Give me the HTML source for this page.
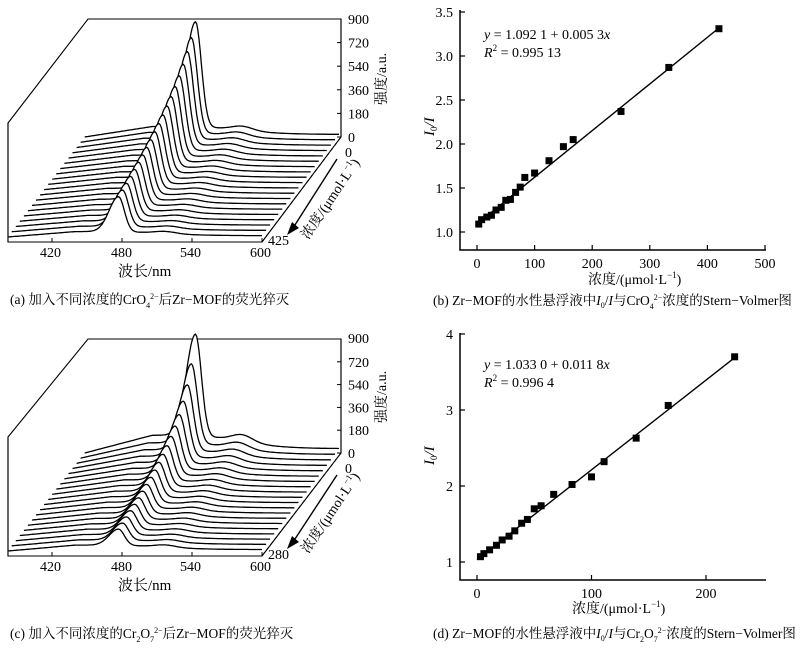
<!DOCTYPE html>
<html><head><meta charset="utf-8"><style>
html,body{margin:0;padding:0;background:#fff;}
svg{display:block;font-family:"Liberation Serif","Noto Serif CJK SC","Noto Sans CJK SC",serif;}
</style></head><body>
<svg id="s" width="800" height="649" viewBox="0 0 800 649" xmlns="http://www.w3.org/2000/svg">
<g id="wa"></g><g id="wc"></g>
<g font-size="14" fill="#000">
<text x="348" y="24">900</text>
<text x="348" y="142">0</text>
<text x="345" y="157">0</text>
<text x="268" y="245">425</text>
<text x="40" y="257">420</text><text x="111" y="257">480</text><text x="180" y="257">540</text><text x="250" y="257">600</text>
<text x="118" y="276" font-size="15">波长/nm</text>
<text x="386" y="105" transform="rotate(-90 386 105)" font-size="14">强度/a.u.</text>
<text x="308" y="240" transform="rotate(-56 308 240)" font-size="14">浓度/(μmol·L<tspan font-size="9" dy="-6">−1</tspan><tspan dy="6">)</tspan></text>
<text x="10" y="304" font-size="13.5">(a)  加入不同浓度的CrO<tspan font-size="8" dy="4">4</tspan><tspan font-size="8" dy="-9">2−</tspan><tspan dy="5">后Zr−MOF的荧光猝灭</tspan></text>
</g>
<g font-size="14" fill="#000">
<text x="348" y="343">900</text><text x="348" y="458">0</text><text x="345" y="473">0</text>
<text x="268" y="559">280</text>
<text x="40" y="571">420</text><text x="111" y="571">480</text><text x="180" y="571">540</text><text x="250" y="571">600</text>
<text x="118" y="590" font-size="15">波长/nm</text>
<text x="386" y="423" transform="rotate(-90 386 423)" font-size="14">强度/a.u.</text>
<text x="308" y="554" transform="rotate(-56 308 554)" font-size="14">浓度/(μmol·L<tspan font-size="9" dy="-6">−1</tspan><tspan dy="6">)</tspan></text>
<text x="10" y="638" font-size="13.5">(c)  加入不同浓度的Cr<tspan font-size="8" dy="4">2</tspan><tspan dy="-4">O</tspan><tspan font-size="8" dy="4">7</tspan><tspan font-size="8" dy="-9">2−</tspan><tspan dy="5">后Zr−MOF的荧光猝灭</tspan></text>
</g>
<g id="pb"></g><g id="pd"></g>
<g font-size="14">
<text x="484" y="39" font-style="italic">y<tspan font-style="normal"> = 1.092 1 + 0.005 3</tspan>x</text>
<text x="484" y="57" font-style="italic">R<tspan font-style="normal" font-size="9" dy="-6">2</tspan><tspan font-style="normal" dy="6"> = 0.995 13</tspan></text>
<text x="588" y="284" font-size="14">浓度/(μmol·L<tspan font-size="9" dy="-6">−1</tspan><tspan dy="6">)</tspan></text>
<text x="433" y="305" font-size="13.5">(b)  Zr−MOF的水性悬浮液中<tspan font-style="italic">I</tspan><tspan font-size="8" dy="3">0</tspan><tspan dy="-3">/</tspan><tspan font-style="italic">I</tspan>与CrO<tspan font-size="8" dy="4">4</tspan><tspan font-size="8" dy="-9">2−</tspan><tspan dy="5">浓度的Stern−Volmer图</tspan></text>
<text x="434" y="136" transform="rotate(-90 434 136)" font-style="italic" font-size="15">I<tspan font-size="9" dy="3" font-style="normal">0</tspan><tspan dy="-3">/</tspan>I</text>
<text x="484" y="369" font-style="italic">y<tspan font-style="normal"> = 1.033 0 + 0.011 8</tspan>x</text>
<text x="484" y="387" font-style="italic">R<tspan font-style="normal" font-size="9" dy="-6">2</tspan><tspan font-style="normal" dy="6"> = 0.996 4</tspan></text>
<text x="572" y="613" font-size="14">浓度/(μmol·L<tspan font-size="9" dy="-6">−1</tspan><tspan dy="6">)</tspan></text>
<text x="433" y="638" font-size="13.5">(d)  Zr−MOF的水性悬浮液中<tspan font-style="italic">I</tspan><tspan font-size="8" dy="3">0</tspan><tspan dy="-3">/</tspan><tspan font-style="italic">I</tspan>与Cr<tspan font-size="8" dy="4">2</tspan><tspan dy="-4">O</tspan><tspan font-size="8" dy="4">7</tspan><tspan font-size="8" dy="-9">2−</tspan><tspan dy="5">浓度的Stern−Volmer图</tspan></text>
<text x="434" y="465" transform="rotate(-90 434 465)" font-style="italic" font-size="15">I<tspan font-size="9" dy="3" font-style="normal">0</tspan><tspan dy="-3">/</tspan>I</text>
</g>
</svg>
<script>
var NS="http://www.w3.org/2000/svg";
function el(p,t,a){var e=document.createElementNS(NS,t);for(var k in a)e.setAttribute(k,a[k]);p.appendChild(e);return e;}
function g(w,m,s){return Math.exp(-0.5*Math.pow((w-m)/s,2));}
function spec(w,P,B){
  var base;
  if(w<440) base=B*Math.max(0,(w-382)/58); else if(w<468) base=B; else base=B*(0.25+0.75*Math.exp(-Math.pow((w-468)/60,2)));
  base+=0.4*B*g(w,517,9);
  var pk= w<477 ? P*g(w,477,8) : P*g(w,477,5);
  return base+pk;
}
function water(id,yTop,yZero,yBot,k,B0){
  var G=document.getElementById(id);
  var sc=(yZero-yTop)/900, N=20, dxb=77, dyb=-(yBot-5-yZero);
  var fx=function(w){return 52+(w-420)*1.1667;};
  el(G,"path",{d:"M8 "+(yBot-119)+" L88 "+yTop+" L341 "+yTop+" L341 "+yZero+" L262 "+yBot+" L8 "+yBot+" Z",fill:"none",stroke:"#000","stroke-width":1.1});
  for(var i=0;i<N;i++){
    var t=i/(N-1), ox=dxb*(1-t), oy=(yBot-5)+dyb*(1-t);
    var f=1/(1+k*t), P=800*f, B=B0*Math.pow(f,0.6);
    var pts=[];
    for(var w=382;w<=600;w+=1){pts.push([fx(w)+ox,oy-spec(w,P,B)*sc]);}
    var d="M"+pts.map(function(p){return p[0].toFixed(1)+" "+p[1].toFixed(1);}).join(" L");
    el(G,"path",{d:d+" L"+(fx(600)+ox).toFixed(1)+" "+(oy+6)+" L"+(fx(382)+ox).toFixed(1)+" "+(oy+6)+" Z",fill:"#fff",stroke:"none"});
    el(G,"path",{d:d,fill:"none",stroke:"#000","stroke-width":1.3});
  }
  el(G,"path",{d:"M8 "+(yBot-119)+" L8 "+yBot+" L262 "+yBot+" L341 "+yZero+" L341 "+yTop,fill:"none",stroke:"#000","stroke-width":1.1});
  [420,480,540,600].forEach(function(w){var x=fx(w);el(G,"line",{x1:x,y1:yBot,x2:x,y2:yBot-4,stroke:"#000"});});
  for(var j=0;j<=5;j++){var y=yZero-j*(yZero-yTop)/5;el(G,"line",{x1:341,y1:y,x2:337,y2:y,stroke:"#000"});
    if(j>0&&j<5){var tx=el(G,"text",{x:348,y:y+5,"font-size":14});tx.textContent=String(j*180);}}
  el(G,"line",{x1:337,y1:yZero+22,x2:293,y2:yBot-14,stroke:"#000","stroke-width":1.4});
  el(G,"path",{d:"M287 "+(yBot-7)+" L292 "+(yBot-20)+" L299 "+(yBot-14)+" Z",fill:"#000"});
}
water("wa",19,137,242,2.0,80);
water("wc",339,453,556,5.3,140);
function plot2(id,Y0,xs,ys,ticksY,ticksX,pts,a,b,lx,top){
  var G=document.getElementById(id);
  el(G,"path",{d:"M460 "+top+" L460 "+Y0+" L766 "+Y0,fill:"none",stroke:"#000","stroke-width":1.5});
  ticksY.forEach(function(v){var y=ys(v);el(G,"line",{x1:460,y1:y,x2:465,y2:y,stroke:"#000","stroke-width":1.2});
    var t=el(G,"text",{x:453,y:y+5,"font-size":14,"text-anchor":"end"});t.textContent=v.lab;});
  ticksX.forEach(function(v){var x=xs(v);el(G,"line",{x1:x,y1:Y0,x2:x,y2:Y0-5,stroke:"#000","stroke-width":1.2});
    var t=el(G,"text",{x:x,y:Y0+18,"font-size":14,"text-anchor":"middle"});t.textContent=String(v);});
  el(G,"line",{x1:xs(0),y1:ys({v:a}),x2:xs(lx),y2:ys({v:a+b*lx}),stroke:"#000","stroke-width":1.4});
  pts.forEach(function(p){el(G,"rect",{x:xs(p[0])-3.5,y:ys({v:p[1]})-3.5,width:7,height:7,fill:"#000"});});
}
var ysB=function(o){return 232-(o.v-1)*88;}, xsB=function(x){return 477+x*0.576;};
var tb=[1,1.5,2,2.5,3,3.5].map(function(v){return {v:v,lab:v.toFixed(1)};});
var pb=[[3,1.09],[8,1.14],[17,1.17],[25,1.19],[33,1.25],[42,1.28],[50,1.36],[58,1.37],[67,1.45],[75,1.51],[83,1.62],[100,1.67],[125,1.81],[150,1.97],[167,2.05],[250,2.37],[333,2.87],[420,3.31]];
plot2("pb",250,xsB,ysB,tb,[0,100,200,300,400,500],pb,1.0921,0.0053,420,10);
var ysD=function(o){return 562-(o.v-1)*76;}, xsD=function(x){return 477+x*1.145;};
var td=[1,2,3,4].map(function(v){return {v:v,lab:String(v)};});
var pd=[[3,1.07],[6,1.11],[11,1.16],[17,1.22],[22,1.29],[28,1.34],[33,1.41],[39,1.51],[44,1.56],[50,1.70],[56,1.74],[67,1.89],[83,2.02],[100,2.12],[111,2.32],[139,2.63],[167,3.06],[225,3.70]];
plot2("pd",580,xsD,ysD,td,[0,100,200],pd,1.033,0.0118,225,333);
</script>
</body></html>
